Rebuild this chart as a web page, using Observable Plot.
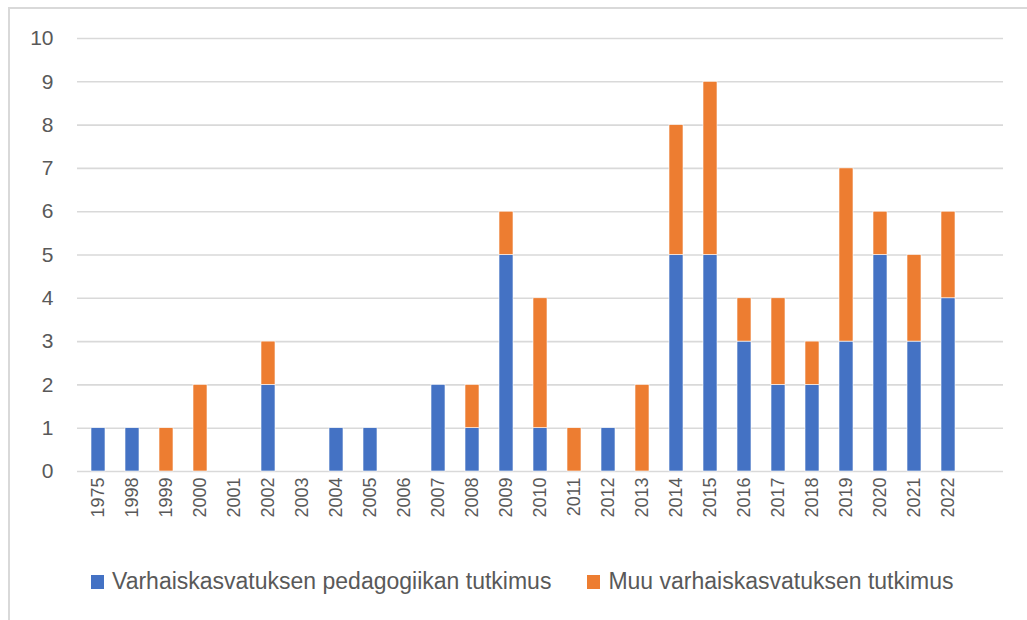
<!DOCTYPE html>
<html>
<head>
<meta charset="utf-8">
<script src="https://cdn.jsdelivr.net/npm/d3@7"></script>
<script src="https://cdn.jsdelivr.net/npm/@observablehq/plot@0.6"></script>
<style>
  html, body { margin: 0; padding: 0; background: #fff; }
  body { width: 1027px; height: 620px; position: relative; overflow: hidden; font-family: "Liberation Sans", "DejaVu Sans", sans-serif; }
  #frame { position: absolute; left: 8px; top: 7px; width: 1030px; height: 640px; border: 2px solid #d9d9d9; box-sizing: border-box; }
  #chart { position: absolute; left: 0; top: 0; }
  #legend { position: absolute; top: 568px; left: 91px; display: flex; align-items: center; font-size: 23px; color: #595959; white-space: nowrap; }
  .item { display: flex; align-items: center; margin-right: 36px; }
  .sw { width: 13px; height: 14px; margin-right: 8px; }
</style>
</head>
<body>
<div id="frame"></div>
<div id="chart"></div>
<div id="legend"></div>
<script>
const years = ["1975","1998","1999","2000","2001","2002","2003","2004","2005","2006","2007","2008","2009","2010","2011","2012","2013","2014","2015","2016","2017","2018","2019","2020","2021","2022"];
const pedagogiikka = [1,1,0,0,0,2,0,1,1,0,2,1,5,1,0,1,0,5,5,3,2,2,3,5,3,4];
const muu =          [0,0,1,2,0,1,0,0,0,0,0,1,1,3,1,0,2,3,4,1,2,1,4,1,2,2];
const seriesNames = ["Varhaiskasvatuksen pedagogiikan tutkimus", "Muu varhaiskasvatuksen tutkimus"];
const seriesColors = ["#4472C4", "#ED7D31"];
const yTicks = [0,1,2,3,4,5,6,7,8,9,10];

const rows = [];
years.forEach((y, i) => {
  rows.push({year: y, series: seriesNames[0], value: pedagogiikka[i]});
  rows.push({year: y, series: seriesNames[1], value: muu[i]});
});

const chart = Plot.plot({
  width: 1027,
  height: 530,
  marginLeft: 77,
  marginRight: 24,
  marginTop: 38,
  marginBottom: 59,
  style: {fontFamily: "Liberation Sans, DejaVu Sans, sans-serif", color: "#595959", background: "transparent"},
  x: {domain: [...years, " "], paddingInner: 0.59, paddingOuter: 0.295, align: 0.5, label: null},
  y: {domain: [0, 10], label: null},
  color: {domain: seriesNames, range: seriesColors},
  marks: [
    Plot.ruleY(yTicks, {stroke: "#d9d9d9", strokeWidth: 1.6}),
    Plot.barY(rows, Plot.stackY({order: seriesNames}, {x: "year", y: "value", fill: "series", stroke: "#fff", strokeWidth: 0.6})),
    Plot.axisY({ticks: yTicks, tickSize: 0, tickPadding: 24, fontSize: 21, label: null, fill: "#595959"}),
    Plot.axisX({tickRotate: -90, tickSize: 0, tickPadding: 6, fontSize: 18, label: null, fill: "#595959", tickFormat: d => d.trim()}),
  ]
});
document.getElementById("chart").appendChild(chart);

const legend = document.getElementById("legend");
seriesNames.forEach((n, i) => {
  const it = document.createElement("div");
  it.className = "item";
  const sw = document.createElement("div");
  sw.className = "sw";
  sw.style.background = seriesColors[i];
  const t = document.createElement("span");
  t.textContent = n;
  it.appendChild(sw); it.appendChild(t);
  legend.appendChild(it);
});
</script>
</body>
</html>
